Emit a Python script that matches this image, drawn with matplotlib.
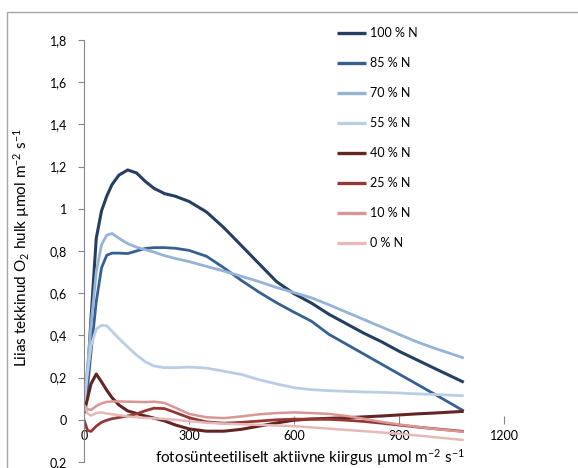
import matplotlib
matplotlib.use("Agg")
import matplotlib.pyplot as plt
from matplotlib.patches import Rectangle

plt.rcParams["font.family"] = ["Lato", "DejaVu Sans"]
plt.rcParams["mathtext.fontset"] = "custom"
plt.rcParams["mathtext.rm"] = "Lato"
plt.rcParams["mathtext.it"] = "Lato:italic"

# PAR values (µmol m-2 s-1)
par = [0, 10, 20, 35, 50, 65, 80, 100, 125, 150, 175, 200, 230, 260, 300,
       350, 400, 450, 500, 550, 600, 650, 700, 750, 800, 850, 900, 950, 1000, 1085]

n100 = [0.05, 0.20, 0.48, 0.86, 0.99, 1.06, 1.115, 1.16, 1.184, 1.17, 1.13, 1.097, 1.072, 1.06, 1.035,
        0.985, 0.91, 0.825, 0.74, 0.655, 0.598, 0.553, 0.50, 0.455, 0.41, 0.37, 0.325, 0.285, 0.245, 0.178]
n85 = [0.05, 0.15, 0.32, 0.56, 0.72, 0.78, 0.79, 0.79, 0.788, 0.80, 0.812, 0.816, 0.816, 0.813, 0.803,
       0.775, 0.72, 0.66, 0.605, 0.555, 0.51, 0.467, 0.405, 0.358, 0.311, 0.264, 0.217, 0.17, 0.123, 0.042]
n70 = [0.07, 0.25, 0.45, 0.70, 0.83, 0.875, 0.883, 0.86, 0.835, 0.818, 0.806, 0.795, 0.778, 0.765, 0.75,
       0.727, 0.705, 0.68, 0.655, 0.627, 0.603, 0.578, 0.545, 0.51, 0.475, 0.44, 0.405, 0.37, 0.34, 0.293]
n55 = [0.07, 0.22, 0.35, 0.43, 0.448, 0.445, 0.42, 0.385, 0.345, 0.307, 0.275, 0.255, 0.247, 0.247, 0.25,
       0.245, 0.23, 0.215, 0.19, 0.17, 0.152, 0.143, 0.138, 0.135, 0.132, 0.13, 0.127, 0.123, 0.12, 0.114]
n40 = [0.03, 0.10, 0.17, 0.217, 0.18, 0.14, 0.105, 0.07, 0.042, 0.03, 0.018, 0.008, -0.005, -0.024, -0.043,
       -0.054, -0.054, -0.045, -0.03, -0.015, -0.002, 0.004, 0.007, 0.01, 0.014, 0.018, 0.023, 0.028, 0.032, 0.04]
n25 = [0.0, -0.05, -0.055, -0.03, -0.012, -0.002, 0.005, 0.011, 0.018, 0.028, 0.043, 0.055, 0.053, 0.035, 0.01,
       -0.01, -0.016, -0.012, -0.006, 0.0, 0.003, 0.003, 0.002, -0.002, -0.008, -0.016, -0.025, -0.034, -0.042, -0.055]
n10 = [0.07, 0.05, 0.047, 0.065, 0.078, 0.085, 0.087, 0.087, 0.086, 0.085, 0.084, 0.086, 0.08, 0.058, 0.028,
       0.012, 0.008, 0.016, 0.026, 0.032, 0.035, 0.032, 0.028, 0.018, 0.005, -0.01, -0.022, -0.033, -0.043, -0.057]
n0 = [0.07, 0.03, 0.02, 0.032, 0.035, 0.03, 0.026, 0.022, 0.016, 0.012, 0.009, 0.007, 0.004, 0.0, -0.006,
      -0.014, -0.018, -0.021, -0.024, -0.027, -0.03, -0.036, -0.042, -0.048, -0.054, -0.06, -0.066, -0.074, -0.082, -0.096]

labels = ["100 % N", "85 % N", "70 % N", "55 % N", "40 % N", "25 % N", "10 % N", "0 % N"]
colors = ["#243F60", "#376092", "#95B3D7", "#B9CDE5", "#632523", "#953735", "#D99694", "#E6B9B8"]
widths = [2.2, 2.0, 2.0, 2.0, 2.2, 2.0, 1.8, 1.8]

fig = plt.figure(figsize=(5.78, 4.68), dpi=100)
fig.patches.append(Rectangle((7 / 578, -0.1), 1.0, (468 - 12) / 468 + 0.1,
                             transform=fig.transFigure, fill=False,
                             edgecolor="#a6a6a6", lw=1.0))

ax = fig.add_axes([84 / 578, 6 / 468, 420 / 578, 422 / 468])
for y, lab, c, lw in zip([n100, n85, n70, n55, n40, n25, n10, n0], labels, colors, widths):
    ax.plot(par, y, color=c, lw=lw, label=lab, solid_capstyle="butt")

ax.set_xlim(0, 1200)
ax.set_ylim(-0.2, 1.8)
ax.spines["top"].set_visible(False)
ax.spines["right"].set_visible(False)
ax.spines["left"].set_color("#868686")
ax.spines["bottom"].set_position(("data", 0))
ax.spines["bottom"].set_visible(False)

xt = [0, 300, 600, 900, 1200]
ax.set_xticks(xt)
ax.set_xticklabels([str(v) for v in xt])
yt = [-0.2, 0.0, 0.2, 0.4, 0.6, 0.8, 1.0, 1.2, 1.4, 1.6, 1.8]
ax.set_yticks(yt)
ax.set_yticklabels(["0,2", "0", "0,2", "0,4", "0,6", "0,8", "1", "1,2", "1,4", "1,6", "1,8"])
ax.tick_params(axis="x", direction="inout", length=6, color="#868686", labelsize=9, pad=4)
ax.tick_params(axis="y", direction="out", length=4, color="#868686", labelsize=9, pad=8)

fig.text(22 / 578, 1 - 248 / 468, r"Liias tekkinud O$_2$ hulk µmol m$^{-2}$ s$^{-1}$",
         rotation=90, ha="center", va="center", fontsize=11)
fig.text(310 / 578, 1 - 458 / 468, r"fotosünteetiliselt aktiivne kiirgus µmol m$^{-2}$ s$^{-1}$",
         ha="center", va="center", fontsize=11)

leg = ax.legend(loc="upper left", bbox_to_anchor=(337 / 578, 1 - 27 / 468),
                bbox_transform=fig.transFigure, frameon=False, fontsize=9,
                handlelength=2.3, handletextpad=0.3, labelspacing=1.44,
                borderpad=0, borderaxespad=0)
for h in leg.get_lines():
    h.set_linewidth(2.4)

fig.savefig("out.png", dpi=100)
